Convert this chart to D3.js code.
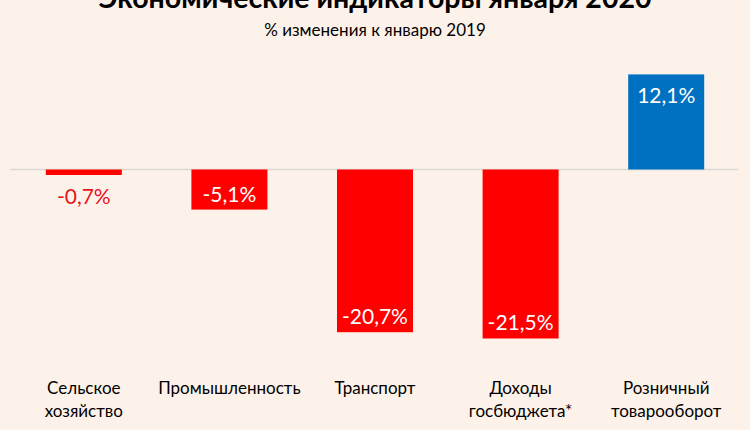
<!DOCTYPE html>
<html><head><meta charset="utf-8">
<script src="https://cdn.jsdelivr.net/npm/d3@7"></script>
<style>
html,body{margin:0;padding:0;background:#fdf2ea;}
svg{display:block;}
text{font-family:Lato,"Open Sans",sans-serif;}
</style></head>
<body>
<svg id="c" width="750" height="430"></svg>
<script>
const categories = [["Сельское","хозяйство"],["Промышленность"],["Транспорт"],["Доходы","госбюджета*"],["Розничный","товарооборот"]];
const values = [-0.7, -5.1, -20.7, -21.5, 12.1];
const labels = ["-0,7%","-5,1%","-20,7%","-21,5%","12,1%"];
const title = "Экономические индикаторы января 2020";
const subtitle = "% изменения к январю 2019";

const svg = d3.select("#c");
svg.append("rect").attr("width",750).attr("height",430).attr("fill","#fdf2ea");

const x = d3.scaleBand().domain(d3.range(values.length)).range([11,739]).paddingInner(0.478).paddingOuter(0.239);
const y = d3.scaleLinear().domain([-25,15]).range([366,51.6]);

svg.append("text").attr("x",375).attr("y",8).attr("text-anchor","middle")
  .attr("font-size",28.5).attr("font-weight","bold").attr("fill","#000").text(title);
svg.append("text").attr("x",375).attr("y",36).attr("text-anchor","middle")
  .attr("font-size",17).attr("fill","#000").text(subtitle);

svg.append("line").attr("x1",10).attr("x2",738).attr("y1",y(0)).attr("y2",y(0))
  .attr("stroke","#dcd8d4").attr("stroke-width",1.5);

svg.selectAll("rect.bar").data(values).join("rect").attr("class","bar")
  .attr("x",(d,i)=>x(i)).attr("width",x.bandwidth())
  .attr("y",d=>y(Math.max(0,d))).attr("height",d=>Math.abs(y(d)-y(0)))
  .attr("fill",d=>d<0?"#ff0000":"#0070c0");

svg.selectAll("text.val").data(values).join("text").attr("class","val")
  .attr("x",(d,i)=>x(i)+x.bandwidth()/2)
  .attr("y",(d,i)=>{
    if (i===0) return y(d)+29;
    if (d>0) return y(d)+29;
    return y(d)-8;
  })
  .attr("text-anchor","middle").attr("font-size",21)
  .attr("fill",(d,i)=>i===0?"#e8141b":"#ffffff")
  .text((d,i)=>labels[i]);

const cat = svg.selectAll("g.cat").data(categories).join("g").attr("class","cat");
cat.each(function(lines,i){
  const g = d3.select(this);
  lines.forEach((l,j)=>{
    g.append("text").attr("x",x(i)+x.bandwidth()/2).attr("y",394+j*23)
      .attr("text-anchor","middle").attr("font-size",17).attr("fill","#000").text(l);
  });
});
</script>
</body></html>
